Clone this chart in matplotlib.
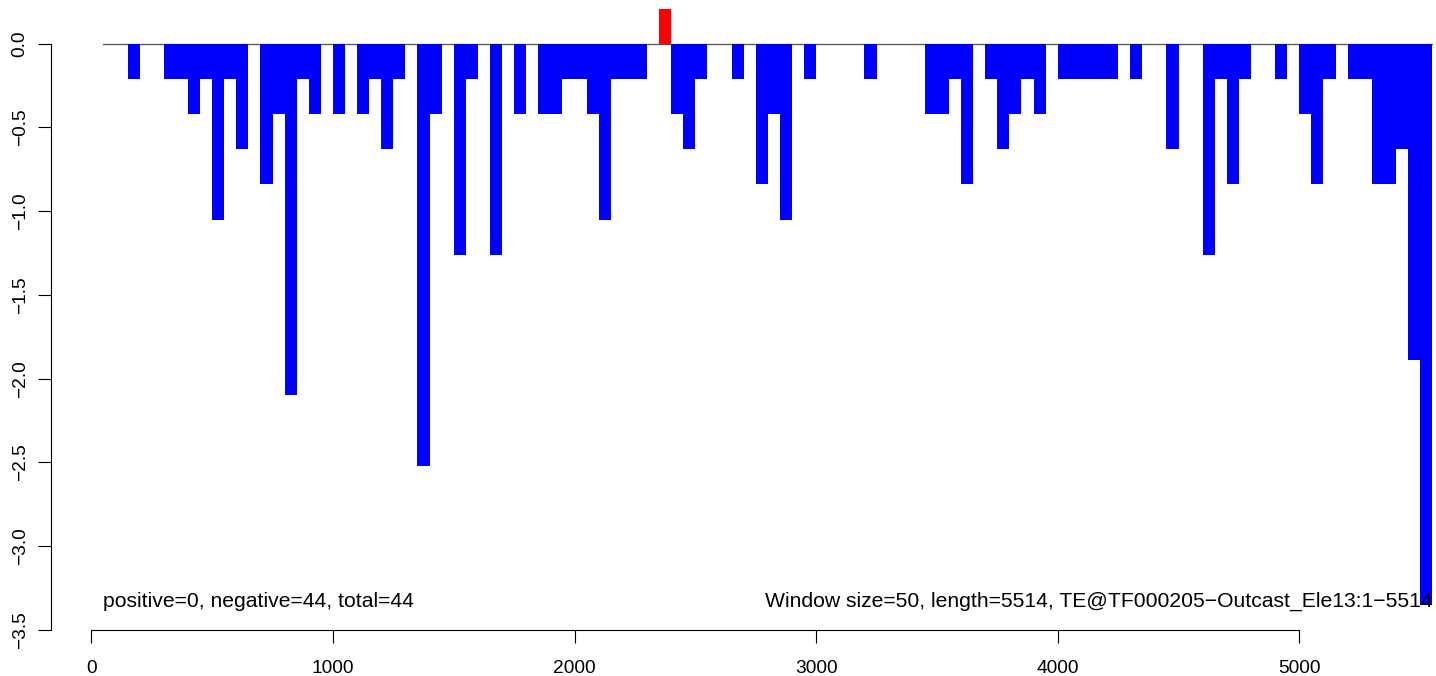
import matplotlib
matplotlib.use("Agg")
import matplotlib.pyplot as plt

plt.rcParams['font.family'] = ['Liberation Sans', 'DejaVu Sans']
plt.rcParams['axes.unicode_minus'] = True

# window starts (bp) and values
window_start = [150, 300, 350, 400, 450, 500, 550, 600, 700, 750, 800, 850, 900,
                1000, 1100, 1150, 1200, 1250, 1350, 1400, 1500, 1550, 1650, 1750,
                1850, 1900, 1950, 2000, 2050, 2100, 2150, 2200, 2250, 2350,
                2400, 2450, 2500, 2650, 2750, 2800, 2850, 2950, 3200,
                3450, 3500, 3550, 3600, 3700, 3750, 3800, 3850, 3900,
                4000, 4050, 4100, 4150, 4200, 4300, 4450, 4600, 4650, 4700, 4750,
                4900, 5000, 5050, 5100, 5200, 5250, 5300, 5350, 5400, 5450, 5500]
window_value = [-0.21, -0.21, -0.21, -0.42, -0.21, -1.05, -0.21, -0.63, -0.84, -0.42,
                -2.10, -0.21, -0.42, -0.42, -0.42, -0.21, -0.63, -0.21, -2.52, -0.42,
                -1.26, -0.21, -1.26, -0.42, -0.42, -0.42, -0.21, -0.21, -0.42, -1.05,
                -0.21, -0.21, -0.21, 0.21, -0.42, -0.63, -0.21, -0.21, -0.84, -0.42,
                -1.05, -0.21, -0.21, -0.42, -0.42, -0.21, -0.84, -0.21, -0.63, -0.42,
                -0.21, -0.42, -0.21, -0.21, -0.21, -0.21, -0.21, -0.21, -0.63, -1.26,
                -0.21, -0.84, -0.21, -0.21, -0.42, -0.84, -0.21, -0.21, -0.21, -0.84,
                -0.84, -0.63, -1.89, -3.35]
window_size = 50
line_range = [50, 5550]
x_ticks = [0, 1000, 2000, 3000, 4000, 5000]
y_ticks = [0.0, -0.5, -1.0, -1.5, -2.0, -2.5, -3.0, -3.5]
left_text = "positive=0, negative=44, total=44"
right_text = "Window size=50, length=5514, TE@TF000205\u2212Outcast_Ele13:1\u22125514"

W, H = 1436, 676
fig = plt.figure(figsize=(W / 100, H / 100), dpi=100)
left_px, right_px, top_px, bottom_px = 51, 1433, 0, 630
ax = fig.add_axes([left_px / W, (H - bottom_px) / H,
                   (right_px - left_px) / W, (bottom_px - top_px) / H])

x0_px, xscale = 91.3, 0.24160
y0_px, yscale = 43.7, 167.5
ax.set_xlim((left_px - x0_px) / xscale, (right_px - x0_px) / xscale)
ax.set_ylim((y0_px - bottom_px) / yscale, (y0_px - top_px) / yscale)

ax.plot(line_range, [0, 0], color='#555555', lw=0.9, zorder=1)
colors = ['red' if v > 0 else 'blue' for v in window_value]
ax.bar(window_start, window_value, width=window_size, align='edge',
       color=colors, edgecolor='none', linewidth=0, zorder=2)

for s in ['top', 'right']:
    ax.spines[s].set_visible(False)
ax.spines['left'].set_bounds(min(y_ticks), max(y_ticks))
ax.spines['bottom'].set_bounds(min(x_ticks), max(x_ticks))
for s in ['left', 'bottom']:
    ax.spines[s].set_linewidth(0.8)

ax.set_xticks(x_ticks)
ax.set_xticklabels([str(t) for t in x_ticks])
ax.set_yticks(y_ticks)
ax.set_yticklabels([f"{t:.1f}".replace('-', '\u2212') for t in y_ticks])
ax.tick_params(axis='both', direction='out', length=9.6, width=0.8,
               labelsize=13.8, colors='black')
ax.tick_params(axis='x', pad=12)
ax.tick_params(axis='y', pad=6.5)
for lbl in ax.get_yticklabels():
    lbl.set_rotation(90)
    lbl.set_va('center')

base_y = (y0_px - 607) / yscale
ax.text(50, base_y, left_text, ha='left', va='baseline', fontsize=15.2)
ax.text(5550, base_y, right_text, ha='right', va='baseline', fontsize=15.2,
        zorder=3)

fig.savefig("out.png", dpi=100)
